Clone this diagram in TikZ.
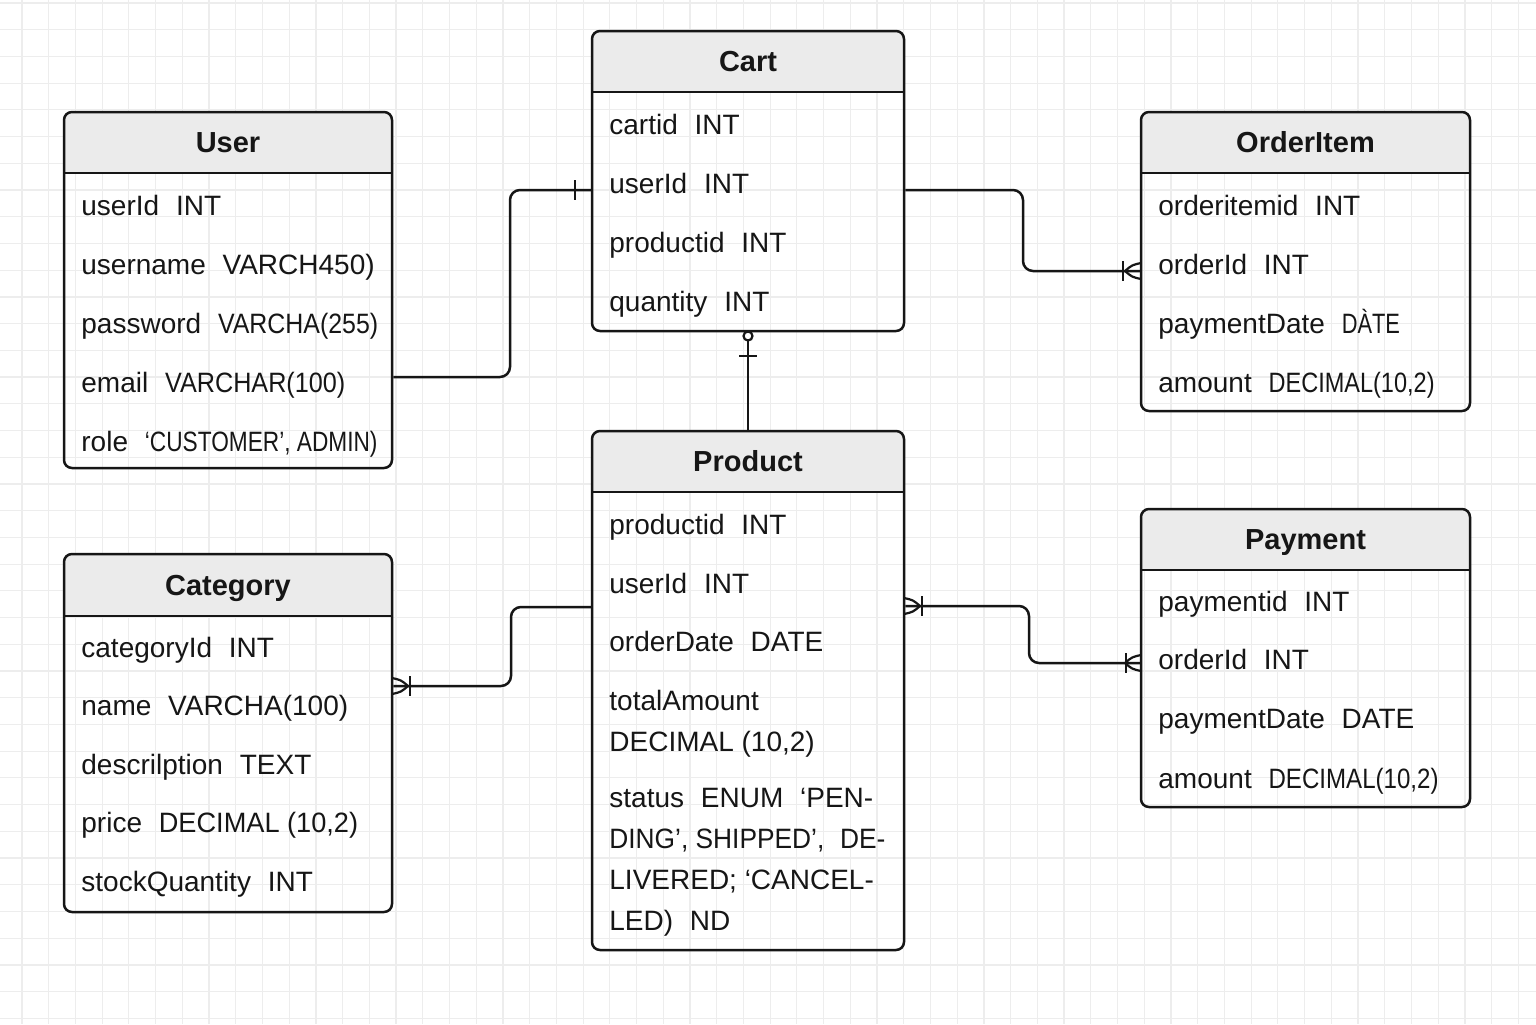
\documentclass[tikz,border=0pt]{standalone}
\usepackage{fontspec}
\usepackage{graphicx}
\setmainfont{Liberation Sans}
\usetikzlibrary{fit}
\definecolor{gridc}{HTML}{EDEDED}
\definecolor{headc}{HTML}{EBEBEB}
\definecolor{inkc}{HTML}{161616}
\newcommand\sep{\hspace{0.6em}}
\newcommand\cnd[2]{\scalebox{#1}[1]{#2}}
\newcommand\entity[7]{%
  \fill[headc] (#2,#6) [rounded corners=4pt] -- (#2,#3) -- (#4,#3) [sharp corners] -- (#4,#6) -- cycle;
  \draw[boxline] (#2,#6) -- (#4,#6);
  \node[boxnode, fit={(#2,#3) (#4,#5)}] (#1) {};
  \node[titletext] (#1-title) at ({(#2+#4)/2},{(#3+#6)/2+10}) {#7};
}
\newcommand\attr[4]{\node[attrtext] (#1) at (#2,#3+10) {#4};}
\begin{document}
\begin{tikzpicture}[x=0.5pt,y=-0.5pt,
  gridline/.style={draw=gridc,line width=0.6pt},
  boxline/.style={draw=inkc,line width=1.2pt},
  boxnode/.style={draw=inkc,line width=1.25pt,rounded corners=4pt,inner sep=0pt},
  titletext/.style={anchor=base,inner sep=0pt,text=inkc,font=\fontsize{14.5}{16}\selectfont\bfseries},
  attrtext/.style={anchor=base west,inner sep=0pt,text=inkc,font=\fontsize{14}{16}\selectfont},
  conn/.style={draw=inkc,line width=1.25pt,rounded corners=5pt},
  cfmark/.style={draw=inkc,line width=1.1pt}
]
\useasboundingbox (0,0) rectangle (1536,1024);
\fill[white] (0,0) rectangle (1536,1024);
\foreach \i in {0,...,57} \draw[gridline] ({22+26.72*\i},0) -- ++(0,1024);
\foreach \j in {0,...,38} \draw[gridline] (0,{3+26.72*\j}) -- ++(1536,0);

% ---------- entities ----------
\entity{user}{64}{112}{392}{468}{173}{User}
\attr{u1}{81}{205}{userId\sep INT}
\attr{u2}{81}{264}{username\sep VARCH450)}
\attr{u3}{81}{323}{password\sep \cnd{0.89}{VARCHA(255)}}
\attr{u4}{81}{382}{email\sep \cnd{0.9}{VARCHAR(100)}}
\attr{u5}{81}{441}{role\sep \cnd{0.81}{‘CUSTOMER’, ADMIN)}}

\entity{cart}{592}{31}{904}{331}{92}{Cart}
\attr{c1}{609}{124}{cartid\sep INT}
\attr{c2}{609}{183}{userId\sep INT}
\attr{c3}{609}{242}{productid\sep INT}
\attr{c4}{609}{301}{quantity\sep INT}

\entity{orderitem}{1141}{112}{1470}{411}{173}{OrderItem}
\attr{o1}{1158}{205}{orderitemid\sep INT}
\attr{o2}{1158}{264}{orderId\sep INT}
\attr{o3}{1158}{323}{paymentDate\sep \cnd{0.78}{DÀTE}}
\attr{o4}{1158}{382}{amount\sep \cnd{0.84}{DECIMAL(10,2)}}

\entity{product}{592}{431}{904}{950}{492}{Product}
\attr{p1}{609}{524}{productid\sep INT}
\attr{p2}{609}{583}{userId\sep INT}
\attr{p3}{609}{641}{orderDate\sep DATE}
\attr{p4}{609}{700}{totalAmount}
\attr{p5}{609}{741}{DECIMAL (10,2)}
\attr{p6}{609}{797}{status\sep ENUM\sep ‘PEN-}
\attr{p7}{609}{838}{\cnd{0.94}{DING’, SHIPPED’,\sep DE-}}
\attr{p8}{609}{879}{LIVERED; ‘CANCEL-}
\attr{p9}{609}{920}{LED)\sep ND}

\entity{category}{64}{554}{392}{912}{616}{Category}
\attr{k1}{81}{647}{categoryId\sep INT}
\attr{k2}{81}{705}{name\sep VARCHA(100)}
\attr{k3}{81}{764}{descrilption\sep TEXT}
\attr{k4}{81}{822}{price\sep \cnd{0.97}{DECIMAL (10,2)}}
\attr{k5}{81}{881}{stockQuantity\sep INT}

\entity{payment}{1141}{509}{1470}{807}{570}{Payment}
\attr{y1}{1158}{601}{paymentid\sep INT}
\attr{y2}{1158}{659}{orderId\sep INT}
\attr{y3}{1158}{718}{paymentDate\sep DATE}
\attr{y4}{1158}{778}{amount\sep \cnd{0.86}{DECIMAL(10,2)}}

% ---------- connectors ----------
% User -- Cart
\draw[conn] (user.east |- 0,377) -- (510,377) -- (510,190) -- (cart.west |- 0,190);
\draw[cfmark] (575,180) -- (575,200);
% Cart -- OrderItem
\draw[conn] (cart.east |- 0,190) -- (1023,190) -- (1023,271) -- (orderitem.west |- 0,271);
\draw[cfmark] (1123,261) -- (1123,281);
\draw[cfmark] (1141,263) .. controls (1132,265) .. (1125,271) .. controls (1132,277) .. (1141,279);
% Cart -- Product
\draw[conn] (cart.south -| 748,0) ++(0,9) -- (product.north -| 748,0);
\draw[cfmark] (748,336) circle (4.5);
\draw[cfmark] (739,356) -- (757,356);
% Category -- Product
\draw[conn] (product.west |- 0,607) -- (511,607) -- (511,686) -- (category.east |- 0,686);
\draw[cfmark] (410,676) -- (410,696);
\draw[cfmark] (392,678) .. controls (401,680) .. (408,686) .. controls (401,692) .. (392,694);
% Product -- Payment
\draw[conn] (product.east |- 0,606) -- (1029,606) -- (1029,663) -- (payment.west |- 0,663);
\draw[cfmark] (922,596) -- (922,616);
\draw[cfmark] (904,598) .. controls (913,600) .. (920,606) .. controls (913,612) .. (904,614);
\draw[cfmark] (1126,653) -- (1126,673);
\draw[cfmark] (1141,655) .. controls (1132,657) .. (1125,663) .. controls (1132,669) .. (1141,671);
\end{tikzpicture}
\end{document}
